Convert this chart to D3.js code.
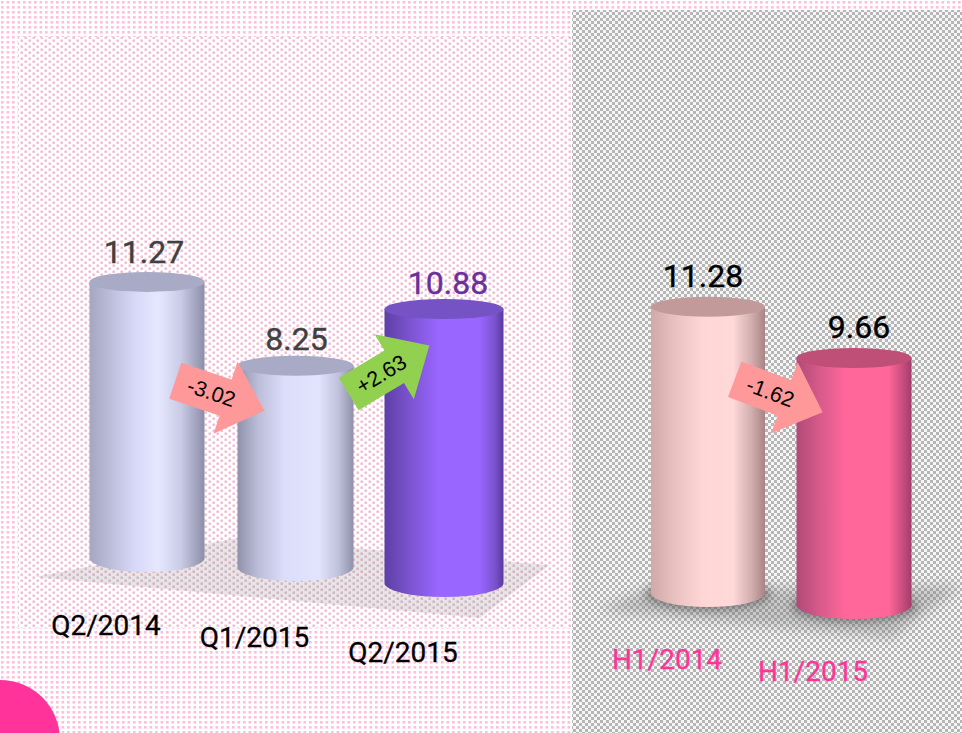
<!DOCTYPE html>
<html><head><meta charset="utf-8">
<script src="https://cdn.jsdelivr.net/npm/d3@7"></script>
<style>html,body{margin:0;padding:0;background:#fff}svg{display:block}text{font-family:Roboto,sans-serif}</style>
</head><body><div id="c"></div>
<script>
// ---- data
const quarterCategories = ["Q2/2014","Q1/2015","Q2/2015"];
const quarterValues = [11.27,8.25,10.88];
const halfCategories = ["H1/2014","H1/2015"];
const halfValues = [11.28,9.66];
const quarterDeltas = ["-3.02","+2.63"];
const halfDeltas = ["-1.62"];

// ---- layout and style
const W=962,H=733;
const xQuarter=d3.scalePoint().domain(quarterCategories).range([147,444]);
const xHalf=d3.scalePoint().domain(halfCategories).range([708,854]);
const hScale=d3.scaleLinear().domain([0,12]).range([0,300]);
const lay={
 "Q2/2014":{base:558,rx:57.5,depth:.98,dx:-3,lift:19,catDy:1,skin:"lav",val:"#404040",cat:"#000",top:"#a9aac6"},
 "Q1/2015":{base:567,rx:58,depth:.976,dx:1,lift:16,catDy:4,skin:"lav2",val:"#404040",cat:"#000",top:"#a9aac6"},
 "Q2/2015":{base:583,rx:59.5,depth:1.007,dx:4,lift:15,catDy:3,skin:"pur",val:"#6a2f9e",cat:"#000",top:"#7553c4"},
 "H1/2014":{base:593,rx:57,depth:1.015,dx:-5,lift:20,catDy:0,skin:"pal",val:"#000",cat:"#ff3399",top:"#c29a9a"},
 "H1/2015":{base:605,rx:57.5,depth:1.023,dx:5,lift:20,catDy:0,skin:"hot",val:"#000",cat:"#ff3399",top:"#c04f78"}
};
const skins={
 lav:[[0,"#a5a6c0"],[.15,"#b8b9d5"],[.38,"#d6d7f6"],[.6,"#e6e7ff"],[.8,"#c8c9e4"],[1,"#8c8da6"]],
 lav2:[[0,"#9092ac"],[.18,"#bcbdd8"],[.4,"#dcddfa"],[.7,"#e2e3fd"],[.87,"#c0c1dc"],[1,"#8f90a8"]],
 pur:[[0,"#5e3fa6"],[.2,"#7a52cc"],[.45,"#9966ff"],[.8,"#9966ff"],[.93,"#7a52cc"],[1,"#57399c"]],
 pal:[[0,"#d2a8a8"],[.2,"#e8c0c0"],[.45,"#ffd6d6"],[.72,"#ffd8d8"],[.88,"#d2aeae"],[1,"#a88484"]],
 hot:[[0,"#b04a78"],[.2,"#d65a8a"],[.42,"#ff6699"],[.8,"#ff6699"],[.92,"#c94f80"],[1,"#a23c6a"]]
};
const TOP_RY=10,BOT_RY=14;

const svg=d3.select("#c").append("svg").attr("width",W).attr("height",H).attr("viewBox",[0,0,W,H]);
const defs=svg.append("defs");

function dotPattern(id,color,size,w,h,spots){
  const p=defs.append("pattern").attr("id",id).attr("patternUnits","userSpaceOnUse").attr("width",w).attr("height",h);
  p.append("rect").attr("width",w).attr("height",h).attr("fill","#fff");
  spots.forEach(d=>p.append("rect").attr("x",d[0]).attr("y",d[1]).attr("width",size).attr("height",size).attr("fill",color));
}
dotPattern("pinkDots","#ffbedb",2.6,11,10,[[1,1],[6.5,1],[1,6],[6.5,6]]);
dotPattern("paleDots","#eebad2",2.4,8,6,[[0.5,0.5],[4.5,3.5]]);
const chk=defs.append("pattern").attr("id","checker").attr("patternUnits","userSpaceOnUse").attr("width",6).attr("height",6);
chk.append("rect").attr("width",6).attr("height",6).attr("fill","#f6f6f6");
chk.append("rect").attr("width",3).attr("height",3).attr("fill","#b6b6b6");
chk.append("rect").attr("x",3).attr("y",3).attr("width",3).attr("height",3).attr("fill","#b6b6b6");
defs.append("filter").attr("id","soft").attr("x","-30%").attr("y","-30%").attr("width","160%").attr("height","160%").append("feGaussianBlur").attr("stdDeviation",6);
defs.append("filter").attr("id","soft2").attr("x","-30%").attr("y","-60%").attr("width","160%").attr("height","220%").append("feGaussianBlur").attr("stdDeviation",4);

Object.entries(skins).forEach(([k,stops])=>{
  const g=defs.append("linearGradient").attr("id","sk-"+k);
  stops.forEach(s=>g.append("stop").attr("offset",s[0]).attr("stop-color",s[1]));
});

// backgrounds
svg.append("rect").attr("width",W).attr("height",H).attr("fill","url(#pinkDots)");
svg.append("rect").attr("x",18).attr("y",37).attr("width",554).attr("height",591).attr("fill","url(#paleDots)");
svg.append("rect").attr("x",572).attr("y",10).attr("width",390).attr("height",723).attr("fill","url(#checker)");
svg.append("circle").attr("cx",0).attr("cy",740).attr("r",60).attr("fill","#ff3399");

// floors
svg.append("path").attr("d","M34,577 L237,538 L550,565 L480,618 Z").attr("fill","#808080").attr("opacity",.2);
svg.append("path").attr("d","M598,610 L650,588 L962,586 L892,638 Z").attr("fill","#707070").attr("opacity",.32).attr("filter","url(#soft)");

function cylinders(cats,vals,x,shadow){
  const rows=cats.map((c,i)=>({c,v:vals[i],...lay[c],cx:x(c)}));
  if(shadow){
    svg.append("g").selectAll("ellipse").data(rows).join("ellipse")
      .attr("cx",d=>d.cx).attr("cy",d=>d.base+1).attr("rx",d=>d.rx+5).attr("ry",BOT_RY+2)
      .attr("fill","#505050").attr("opacity",.55).attr("filter","url(#soft2)");
  }
  const g=svg.append("g").selectAll("g").data(rows).join("g");
  g.append("path").attr("fill",d=>`url(#sk-${d.skin})`).attr("d",d=>{
    const t=d.base-hScale(d.v)*d.depth,l=d.cx-d.rx,r=d.cx+d.rx;
    return `M${l},${t}L${r},${t}L${r},${d.base}A${d.rx},${BOT_RY} 0 0 1 ${l},${d.base}Z`;
  });
  g.append("ellipse").attr("cx",d=>d.cx).attr("cy",d=>d.base-hScale(d.v)*d.depth)
    .attr("rx",d=>d.rx).attr("ry",TOP_RY).attr("fill",d=>d.top);
  g.append("text").attr("x",d=>d.cx+d.dx).attr("y",d=>d.base-hScale(d.v)*d.depth-d.lift)
    .attr("text-anchor","middle").attr("font-size",32).attr("font-weight",400).attr("fill",d=>d.val)
    .attr("stroke",d=>d.val).attr("stroke-width",.4)
    .text(d=>d3.format(".2f")(d.v));
  g.append("text").attr("x",d=>d.cx-41).attr("y",d=>d.base+BOT_RY+62+d.catDy)
    .attr("text-anchor","middle").attr("font-size",28).attr("font-weight",400).attr("fill",d=>d.cat)
    .attr("stroke",d=>d.cat).attr("stroke-width",.3).text(d=>d.c);
}
cylinders(quarterCategories,quarterValues,xQuarter,false);
cylinders(halfCategories,halfValues,xHalf,true);

// delta arrows
const arrowShape=d3.line()([[0,-19],[53,-19],[53,-38],[94,0],[53,38],[53,19],[0,19]])+"Z";
const arrowPlaces=[
 {t:quarterDeltas[0],x:175.3,y:380.8,a:18.5,f:"#ff9999"},
 {t:quarterDeltas[1],x:348.8,y:394,a:-31,f:"#92d050"},
 {t:halfDeltas[0],x:734.7,y:379.2,a:20.6,f:"#ff9999"}
];
const ag=svg.append("g").selectAll("g").data(arrowPlaces).join("g")
  .attr("transform",d=>`translate(${d.x},${d.y}) rotate(${d.a})`);
ag.append("path").attr("d",arrowShape).attr("fill",d=>d.f);
ag.append("text").attr("x",38).attr("y",7).attr("text-anchor","middle").attr("font-size",21.5)
  .style("font-family","'Liberation Sans',Arial,sans-serif").attr("fill","#000").text(d=>d.t);
</script></body></html>
